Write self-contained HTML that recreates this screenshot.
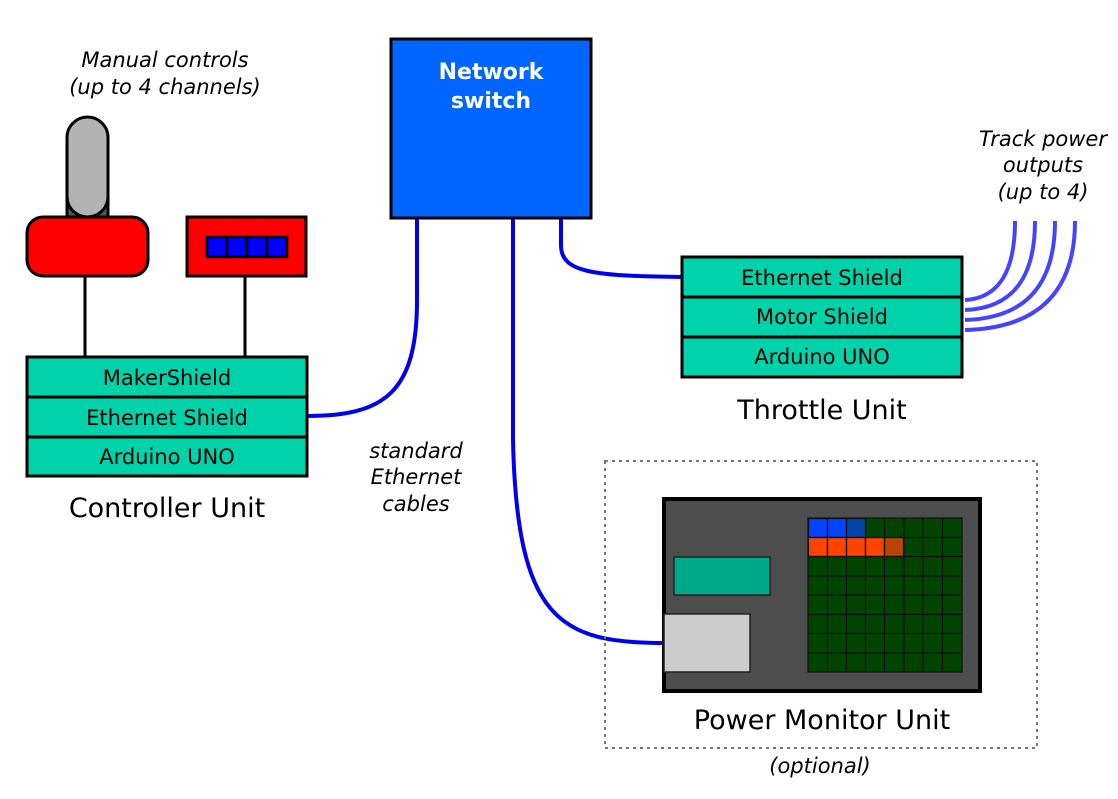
<!DOCTYPE html>
<html><head><meta charset="utf-8"><style>
html,body{margin:0;padding:0;background:#fff}
svg{display:block}
text{font-family:"DejaVu Sans","Liberation Sans",sans-serif}
</style></head><body>
<svg width="1118" height="799" viewBox="0 0 1118 799" xmlns="http://www.w3.org/2000/svg">
<g font-style="italic" font-size="21" text-anchor="middle" fill="#000">
<text x="165" y="67">Manual controls</text>
<text x="165" y="94">(up to 4 channels)</text>
<text x="1043" y="146">Track power</text>
<text x="1043" y="172">outputs</text>
<text x="1043" y="199">(up to 4)</text>
<text x="416" y="458">standard</text>
<text x="416" y="484">Ethernet</text>
<text x="416" y="511">cables</text>
<text x="820" y="773">(optional)</text>
</g>
<g fill="none" stroke="#0000ee" stroke-width="4">
<path d="M417,218 L417,300 C417,392 385,416 307,416"/>
<path d="M513,218 L513,440 C517,620 560,643 664,643"/>
<path d="M561,218 L561,245 C561,272 590,276 682,277"/>
</g>
<g fill="none" stroke="#4444ff" stroke-width="4">
<path d="M965,300 C1000,298 1015,270 1015,221"/>
<path d="M965,310 C1015,308 1035,275 1035,221"/>
<path d="M965,320 C1030,318 1055,280 1055,221"/>
<path d="M965,330 C1045,328 1075,285 1075,221"/>
</g>
<rect x="391" y="39" width="200" height="179" fill="#0066ff" stroke="#000" stroke-width="3"/>
<text x="491" y="79" font-size="22" font-weight="bold" fill="#fff" text-anchor="middle">Network</text>
<text x="491" y="108" font-size="22" font-weight="bold" fill="#fff" text-anchor="middle">switch</text>
<line x1="85" y1="277" x2="85" y2="357" stroke="#000" stroke-width="3"/>
<line x1="245" y1="276" x2="245" y2="357" stroke="#000" stroke-width="3"/>
<rect x="67" y="175" width="41" height="43" fill="#555" stroke="#000" stroke-width="3"/>
<rect x="67" y="117" width="41" height="100" rx="20.5" fill="#b3b3b3" stroke="#000" stroke-width="3"/>
<rect x="27" y="217" width="121" height="59" rx="16" fill="#ff0000" stroke="#000" stroke-width="3"/>
<rect x="187" y="217" width="119" height="59" fill="#ff0000" stroke="#000" stroke-width="3"/>
<g fill="#0000ff" stroke="#000" stroke-width="2.5">
<rect x="207" y="237" width="20" height="20"/><rect x="227" y="237" width="20" height="20"/>
<rect x="247" y="237" width="20" height="20"/><rect x="267" y="237" width="20" height="20"/>
</g>
<g fill="#00d2aa" stroke="#000" stroke-width="3">
<rect x="27" y="357" width="280" height="40"/><rect x="27" y="397" width="280" height="40"/><rect x="27" y="437" width="280" height="39"/>
<rect x="682" y="257" width="280" height="40"/><rect x="682" y="297" width="280" height="40"/><rect x="682" y="337" width="280" height="40"/>
</g>
<g font-size="21" text-anchor="middle" fill="#000">
<text x="167" y="385">MakerShield</text>
<text x="167" y="425">Ethernet Shield</text>
<text x="167" y="464">Arduino UNO</text>
<text x="822" y="285">Ethernet Shield</text>
<text x="822" y="324">Motor Shield</text>
<text x="822" y="364">Arduino UNO</text>
</g>
<g font-size="27" text-anchor="middle" fill="#000">
<text x="167" y="517">Controller Unit</text>
<text x="822" y="419">Throttle Unit</text>
<text x="822" y="729">Power Monitor Unit</text>
</g>
<rect x="605" y="461" width="432" height="287" fill="none" stroke="#777" stroke-width="2" stroke-dasharray="3,4"/>
<rect x="664" y="499" width="316" height="192" fill="#4d4d4d" stroke="#000" stroke-width="4"/>
<rect x="674" y="557" width="96" height="38" fill="#00aa88" stroke="#222" stroke-width="1.5"/>
<rect x="664" y="614" width="86" height="58" fill="#cccccc" stroke="#222" stroke-width="1.5"/>
<g stroke="#111" stroke-width="1.2">
<rect x="808" y="518" width="154" height="154" fill="#004400"/>
<rect x="808.5" y="518.5" width="19" height="19" fill="#0044ff"/>
<rect x="827.5" y="518.5" width="19" height="19" fill="#0044ff"/>
<rect x="846.5" y="518.5" width="19" height="19" fill="#0044aa"/>
<rect x="808.5" y="537.5" width="19" height="19" fill="#ff4400"/>
<rect x="827.5" y="537.5" width="19" height="19" fill="#ff4400"/>
<rect x="846.5" y="537.5" width="19" height="19" fill="#ff4400"/>
<rect x="865.5" y="537.5" width="19" height="19" fill="#ff4400"/>
<rect x="884.5" y="537.5" width="19" height="19" fill="#bb4400"/>
<path fill="none" d="M827.5,518V672M846.5,518V672M865.5,518V672M884.5,518V672M904,518V672M923,518V672M942.5,518V672M808,537.5H962M808,556.5H962M808,576H962M808,595H962M808,614.5H962M808,633.5H962M808,653H962"/>
</g>
</svg>
</body></html>
